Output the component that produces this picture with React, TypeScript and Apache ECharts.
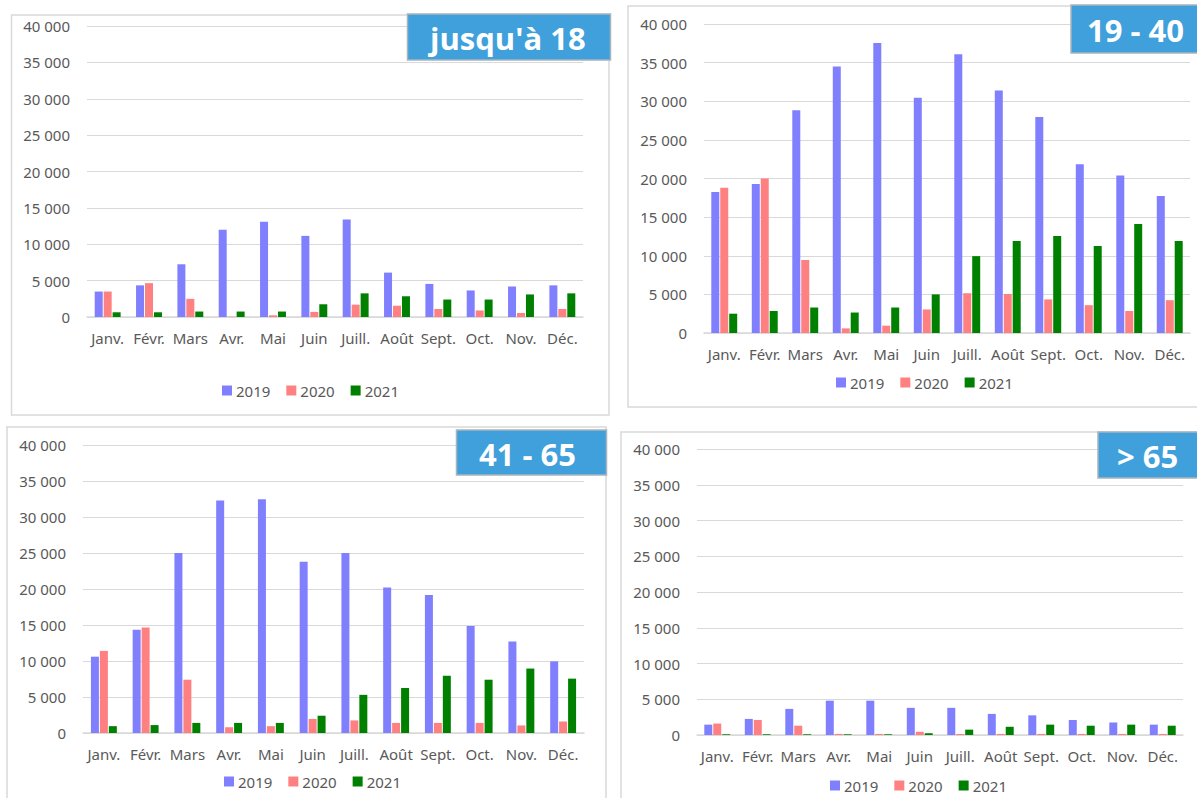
import React, { useEffect, useRef } from "react";
import * as echarts from "echarts";

const months = ["Janv.", "Févr.", "Mars", "Avr.", "Mai", "Juin", "Juill.", "Août", "Sept.", "Oct.", "Nov.", "Déc."];
const years = ["2019", "2020", "2021"];
const yTicks = { min: 0, max: 40000, interval: 5000 };

const titles = ["jusqu'à 18", "19 - 40", "41 - 65", "> 65"];

const u18_2019 = [3500, 4350, 7250, 12000, 13100, 11150, 13400, 6100, 4550, 3650, 4200, 4350];
const u18_2020 = [3500, 4650, 2500, 50, 230, 700, 1700, 1550, 1100, 900, 550, 1100];
const u18_2021 = [650, 650, 750, 750, 750, 1750, 3250, 2850, 2400, 2400, 3100, 3250];

const a19_2019 = [18250, 19300, 28850, 34500, 37550, 30450, 36100, 31400, 27950, 21850, 20400, 17750];
const a19_2020 = [18800, 20000, 9450, 600, 950, 3050, 5150, 5050, 4350, 3600, 2850, 4250];
const a19_2021 = [2500, 2850, 3300, 2650, 3300, 5000, 9950, 11900, 12550, 11250, 14100, 11900];

const a41_2019 = [10600, 14350, 25000, 32300, 32450, 23800, 25000, 20200, 19150, 14850, 12700, 9950];
const a41_2020 = [11400, 14650, 7400, 800, 950, 1950, 1750, 1400, 1400, 1400, 1050, 1600];
const a41_2021 = [950, 1100, 1400, 1400, 1400, 2400, 5300, 6250, 7950, 7400, 8950, 7550];

const o65_2019 = [1450, 2250, 3650, 4800, 4800, 3800, 3800, 2950, 2750, 2100, 1750, 1450];
const o65_2020 = [1600, 2100, 1300, 150, 150, 450, 150, 150, 150, 150, 150, 150];
const o65_2021 = [100, 100, 100, 100, 100, 250, 750, 1150, 1450, 1300, 1450, 1300];

const panelData = [
  [u18_2019, u18_2020, u18_2021],
  [a19_2019, a19_2020, a19_2021],
  [a41_2019, a41_2020, a41_2021],
  [o65_2019, o65_2020, o65_2021],
];

const colors = ["#8080FF", "#FF8080", "#008000"];
const FONT = "'Noto Sans', 'DejaVu Sans', sans-serif";
const TITLE_FONT = "'Open Sans', 'Noto Sans', sans-serif";
const GREY = "#595959";
const LINE = "#D9D9D9";

// layout
const grids = [
  { left: 87, top: 26, width: 496, height: 291 },
  { left: 704, top: 24, width: 486, height: 309 },
  { left: 83, top: 445, width: 501, height: 288 },
  { left: 697, top: 449, width: 486, height: 286 },
];
const legends = [
  { left: 222, top: 383 },
  { left: 836, top: 375 },
  { left: 224, top: 774 },
  { left: 830, top: 778 },
];
const frames = [
  { x: 11.5, y: 15, w: 597.5, h: 400 },
  { x: 628, y: 6, w: 600, h: 401 },
  { x: 7, y: 427, w: 599, h: 400 },
  { x: 621, y: 432, w: 600, h: 400 },
];
const titleBoxes = [
  { x: 407.5, y: 14, w: 203, h: 46, tx: 430 },
  { x: 1071, y: 5, w: 140, h: 48, tx: 1087 },
  { x: 456.5, y: 430, w: 150, h: 45, tx: 479 },
  { x: 1098, y: 432, w: 120, h: 46, tx: 1117 },
];

const fmt = (v: number) => (v === 0 ? "0" : `${Math.round(v / 1000)} 000`);

export default function App() {
  const ref = useRef<HTMLDivElement>(null);
  useEffect(() => {
    if (!ref.current) return;
    const chart = echarts.init(ref.current, null, { renderer: "svg" });

    const graphic: any[] = [];
    frames.forEach((f) => {
      graphic.push({
        type: "rect",
        shape: { x: f.x, y: f.y, width: f.w, height: f.h },
        style: { fill: "none", stroke: LINE, lineWidth: 1.5 },
        z: 0,
        silent: true,
      });
    });
    titleBoxes.forEach((b, i) => {
      graphic.push({
        type: "rect",
        shape: { x: b.x, y: b.y, width: b.w, height: b.h },
        style: { fill: "#3FA0DC", stroke: "#A9B4BD", lineWidth: 1.5 },
        z: 100,
        silent: true,
      });
      graphic.push({
        type: "text",
        x: b.tx,
        y: b.y + b.h / 2 + 1,
        style: {
          text: titles[i],
          fill: "#FFFFFF",
          font: `bold 31px ${TITLE_FONT}`,
          verticalAlign: "middle",
          align: "left",
        },
        z: 101,
        silent: true,
      });
    });

    const option: any = {
      animation: false,
      backgroundColor: "#FFFFFF",
      textStyle: { fontFamily: FONT },
      grid: grids.map((g) => ({ ...g, containLabel: false })),
      xAxis: grids.map((_, i) => ({
        type: "category",
        gridIndex: i,
        data: months,
        axisLine: { lineStyle: { color: LINE, width: 1.5 } },
        axisTick: { show: false },
        axisLabel: { color: GREY, fontSize: 15, interval: 0, margin: 13, fontFamily: FONT },
      })),
      yAxis: grids.map((_, i) => ({
        type: "value",
        gridIndex: i,
        ...yTicks,
        axisLine: { show: false },
        axisTick: { show: false },
        splitLine: { lineStyle: { color: LINE, width: 1.2 } },
        axisLabel: { color: GREY, fontSize: 15, margin: 17, formatter: fmt, fontFamily: FONT },
      })),
      legend: legends.map((l) => ({
        data: years,
        left: l.left,
        top: l.top,
        padding: 0,
        orient: "horizontal",
        icon: "rect",
        itemWidth: 10,
        itemHeight: 10,
        itemGap: 16,
        textStyle: { color: GREY, fontSize: 15, fontFamily: FONT, padding: [0, 0, 0, -1] },
        selectedMode: false,
      })),
      series: panelData.flatMap((set, gi) =>
        set.map((d, si) => ({
          type: "bar",
          name: years[si],
          xAxisIndex: gi,
          yAxisIndex: gi,
          data: d,
          barWidth: 8,
          barGap: "12%",
          itemStyle: { color: colors[si] },
        }))
      ),
      graphic,
    };
    chart.setOption(option);
    return () => chart.dispose();
  }, []);
  return (
    <div
      ref={ref}
      style={{ position: "fixed", left: 0, top: 0, width: 1197, height: 798, background: "#fff" }}
    />
  );
}
